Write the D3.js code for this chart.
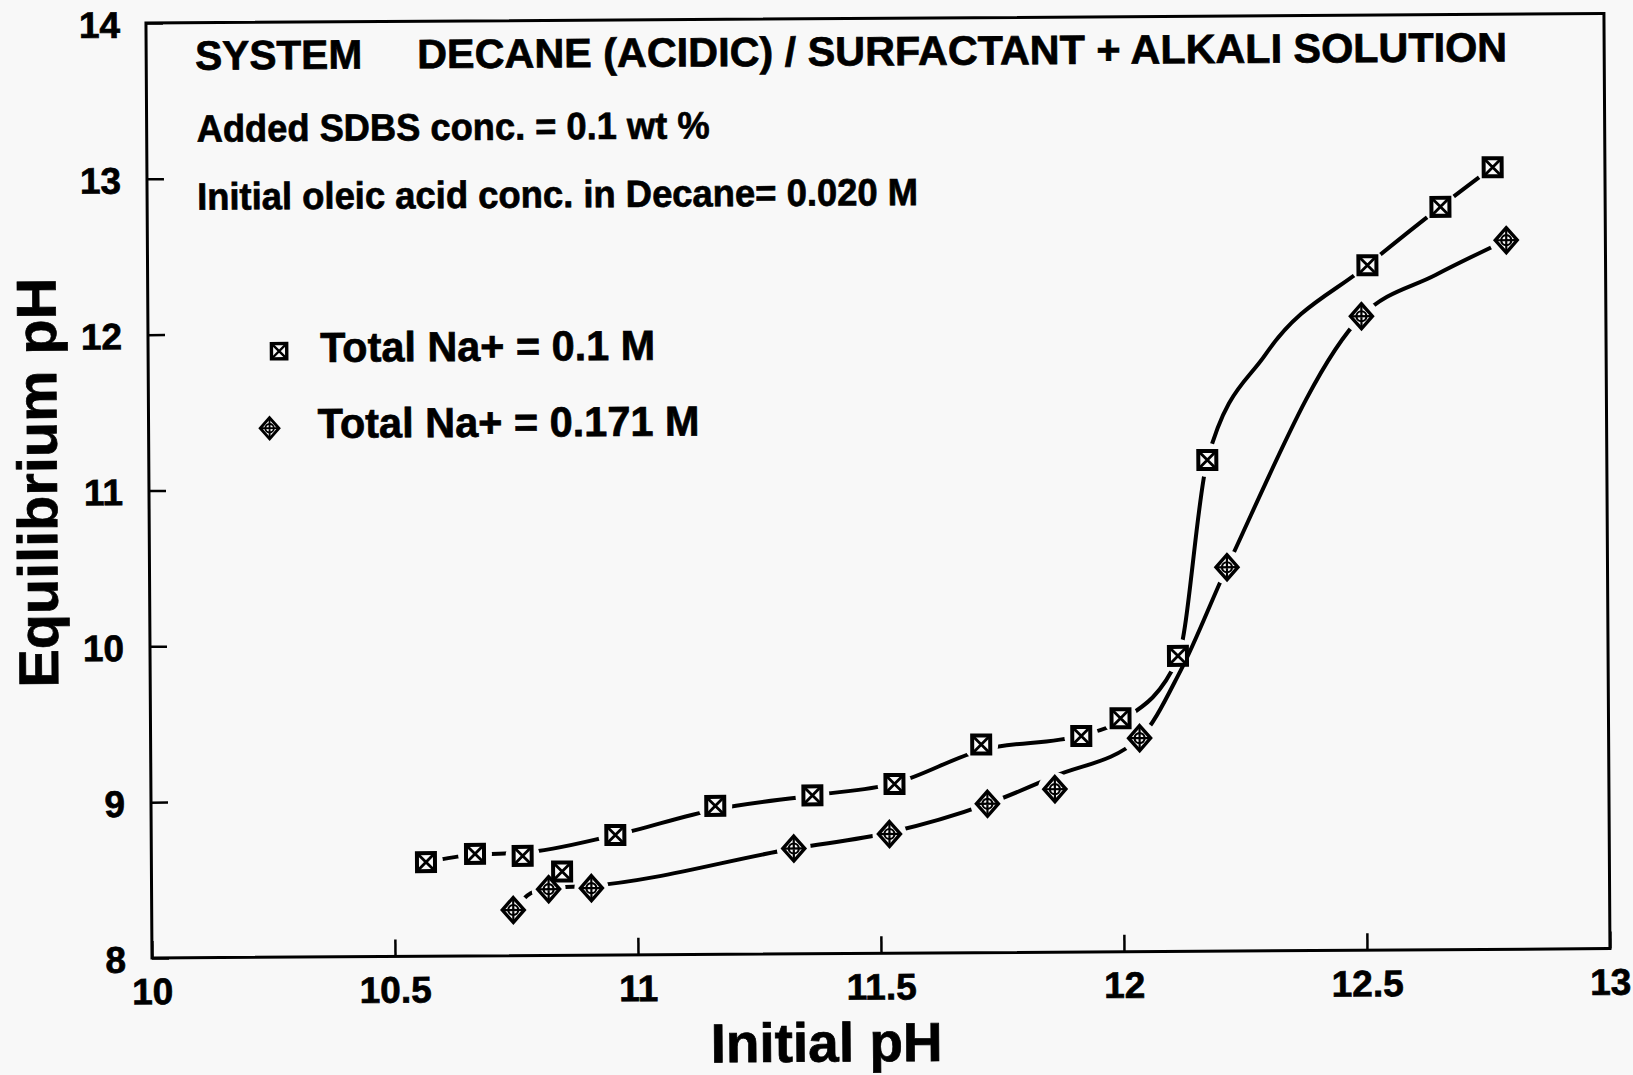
<!DOCTYPE html>
<html><head><meta charset="utf-8">
<script src="https://cdn.jsdelivr.net/npm/d3@7"></script>
<style>
html,body{margin:0;padding:0;background:#f8f8f8;}
svg{display:block;}
text{font-family:"Liberation Sans",Arial,Helvetica,sans-serif;font-weight:bold;fill:#000;stroke:#000;stroke-width:0.7px;}
</style></head><body>
<svg id="chart" width="1633" height="1075"></svg>
<script>
// ---------- data ----------
const xTickValues = [10, 10.5, 11, 11.5, 12, 12.5, 13];
const xTickLabels = ["10", "10.5", "11", "11.5", "12", "12.5", "13"];
const yTickValues = [8, 9, 10, 11, 12, 13, 14];
const yTickLabels = ["8", "9", "10", "11", "12", "13", "14"];

const seriesNames = ["Total Na+ = 0.1 M", "Total Na+ = 0.171 M"];

// Total Na+ = 0.1 M (square markers)
const na01Initial = [10.565, 10.666, 10.764, 10.845, 10.955, 11.161, 11.361, 11.530, 11.709, 11.915, 11.996, 12.115, 12.178, 12.510, 12.661, 12.769];
const na01Equil   = [8.604, 8.655, 8.640, 8.538, 8.770, 8.953, 9.016, 9.086, 9.336, 9.386, 9.498, 9.896, 11.152, 12.395, 12.767, 13.019];
// smooth hand-drawn curve through the 0.1 M data
const na01CurveInitial = [10.565, 10.666, 10.764, 10.955, 11.161, 11.361, 11.530, 11.709, 11.915, 11.996, 12.115, 12.178, 12.30, 12.510, 12.661, 12.769];
const na01CurveEquil   = [8.604, 8.650, 8.660, 8.770, 8.930, 9.016, 9.090, 9.300, 9.390, 9.480, 9.880, 11.152, 11.83, 12.395, 12.767, 13.019];

// Total Na+ = 0.171 M (diamond markers)
const na0171Initial = [10.744, 10.817, 10.905, 11.322, 11.519, 11.721, 11.860, 12.035, 12.217, 12.497, 12.796];
const na0171Equil   = [8.293, 8.425, 8.430, 8.676, 8.765, 8.955, 9.046, 9.370, 10.463, 12.068, 12.550];
const na0171CurveInitial = [10.744, 10.78, 10.817, 10.905, 11.322, 11.519, 11.721, 11.86, 12.035, 12.12, 12.217, 12.497, 12.65, 12.796];
const na0171CurveEquil   = [8.293, 8.40, 8.430, 8.445, 8.676, 8.775, 8.955, 9.13, 9.370, 9.80, 10.463, 12.068, 12.33, 12.550];

const titleSystem = "SYSTEM";
const titleMain = "DECANE (ACIDIC) / SURFACTANT + ALKALI SOLUTION";
const noteLines = ["Added SDBS conc. = 0.1 wt %", "Initial oleic acid conc. in Decane= 0.020 M"];
const xTitle = "Initial pH";
const yTitle = "Equilibrium pH";

// ---------- layout ----------
const BG = "#f8f8f8";
const plot = {left: 152, right: 1610, top: 23, bottom: 958};
const svg = d3.select("#chart");
svg.append("rect").attr("width", 1633).attr("height", 1075).attr("fill", BG);

const root = svg.append("g")
  .attr("transform", `rotate(-0.37, ${plot.left}, ${plot.bottom})`);

const x = d3.scaleLinear().domain([10, 13]).range([plot.left, plot.right]);
const y = d3.scaleLinear().domain([8, 14]).range([plot.bottom, plot.top]);

// frame
root.append("rect")
  .attr("x", x(10)).attr("y", y(14))
  .attr("width", x(13) - x(10)).attr("height", y(8) - y(14))
  .attr("fill", "none").attr("stroke", "#000").attr("stroke-width", 3);

// axes
const xAxis = root.append("g").attr("transform", `translate(0,${plot.bottom})`)
  .call(d3.axisBottom(x).tickValues(xTickValues)
    .tickFormat((d, i) => xTickLabels[i])
    .tickSizeInner(-17).tickSizeOuter(0).tickPadding(20));
xAxis.select(".domain").remove();
xAxis.selectAll(".tick line").attr("stroke", "#000").attr("stroke-width", 2.5);
xAxis.selectAll(".tick text").attr("font-size", 37).attr("fill", "#000");
xAxis.attr("font-family", null).attr("font-size", null);

const yAxis = root.append("g").attr("transform", `translate(${plot.left},0)`)
  .call(d3.axisLeft(y).tickValues(yTickValues)
    .tickFormat((d, i) => yTickLabels[i])
    .tickSizeInner(-17).tickSizeOuter(0).tickPadding(26));
yAxis.select(".domain").remove();
yAxis.selectAll(".tick line").attr("stroke", "#000").attr("stroke-width", 2.5);
yAxis.selectAll(".tick text").attr("font-size", 37).attr("dy", "0.38em").attr("fill", "#000");
yAxis.attr("font-family", null).attr("font-size", null);

// axis titles
root.append("text").text(xTitle)
  .attr("x", 826).attr("y", 1066).attr("text-anchor", "middle")
  .attr("font-size", 55).attr("textLength", 232).attr("lengthAdjust", "spacingAndGlyphs");
root.append("text").text(yTitle)
  .attr("transform", "translate(60,482) rotate(-90)").attr("text-anchor", "middle")
  .attr("font-size", 56).attr("textLength", 410).attr("lengthAdjust", "spacingAndGlyphs");

// title + notes
root.append("text").text(titleSystem).attr("x", 201).attr("y", 70)
  .attr("font-size", 41).attr("textLength", 167).attr("lengthAdjust", "spacingAndGlyphs");
root.append("text").text(titleMain).attr("x", 423).attr("y", 70)
  .attr("font-size", 41).attr("textLength", 1090).attr("lengthAdjust", "spacingAndGlyphs");
root.append("text").text(noteLines[0]).attr("x", 202).attr("y", 142)
  .attr("font-size", 38).attr("textLength", 513).attr("lengthAdjust", "spacingAndGlyphs");
root.append("text").text(noteLines[1]).attr("x", 202).attr("y", 210)
  .attr("font-size", 38).attr("textLength", 721).attr("lengthAdjust", "spacingAndGlyphs");

// marker drawers
function drawSquare(g, s) {
  g.append("path").attr("d", `M${-9*s},${-9*s}H${9*s}V${9*s}H${-9*s}Z`)
    .attr("fill", BG).attr("stroke", "#000").attr("stroke-width", 4*s);
  g.append("path").attr("d", `M${-8*s},${-8*s}L${8*s},${8*s}M${8*s},${-8*s}L${-8*s},${8*s}`)
    .attr("fill", "none").attr("stroke", "#000").attr("stroke-width", 2.8*s);
}
function drawDiamond(g, s) {
  g.append("path").attr("d", `M0,${-12.5*s}L${11*s},0L0,${12.5*s}L${-11*s},0Z`)
    .attr("fill", BG).attr("stroke", "#000").attr("stroke-width", 3.4*s).attr("stroke-linejoin", "miter");
  g.append("circle").attr("r", 5*s).attr("fill", "none").attr("stroke", "#000").attr("stroke-width", 2.2*s);
  g.append("path").attr("d", `M0,${-12*s}V${12*s}M${-11*s},0H${11*s}`)
    .attr("fill", "none").attr("stroke", "#000").attr("stroke-width", 2.2*s);
}

const series = [
  {xs: na01Initial, ys: na01Equil, cx: na01CurveInitial, cy: na01CurveEquil, draw: drawSquare},
  {xs: na0171Initial, ys: na0171Equil, cx: na0171CurveInitial, cy: na0171CurveEquil, draw: drawDiamond}
];

const defs = svg.append("defs");
const line = d3.line().x(d => x(d[0])).y(d => y(d[1])).curve(d3.curveMonotoneX);

series.forEach((s, si) => {
  const pts = s.xs.map((v, i) => [v, s.ys[i]]);
  const curve = s.cx.map((v, i) => [v, s.cy[i]]);
  const mask = defs.append("mask").attr("id", "gap" + si).attr("maskUnits", "userSpaceOnUse")
    .attr("x", -100).attr("y", -100).attr("width", 1900).attr("height", 1300);
  mask.append("rect").attr("x", -100).attr("y", -100).attr("width", 1900).attr("height", 1300).attr("fill", "#fff");
  mask.selectAll("circle").data(pts).join("circle")
    .attr("cx", d => x(d[0])).attr("cy", d => y(d[1])).attr("r", 17).attr("fill", "#000");
  root.append("path").datum(curve).attr("d", line)
    .attr("fill", "none").attr("stroke", "#000").attr("stroke-width", 4)
    .attr("stroke-linecap", "round").attr("mask", `url(#gap${si})`);
});
series.forEach(s => {
  const pts = s.xs.map((v, i) => [v, s.ys[i]]);
  root.append("g").selectAll("g").data(pts).join("g")
    .attr("transform", d => `translate(${x(d[0])},${y(d[1])})`)
    .each(function () { s.draw(d3.select(this), 1); });
});

// legend
const legendRows = [
  {name: seriesNames[0], draw: drawSquare, mx: 283, my: 352, sc: 0.85, tx: 324, ty: 363, tl: 335},
  {name: seriesNames[1], draw: drawDiamond, mx: 273, my: 429, sc: 0.85, tx: 321, ty: 439, tl: 382}
];
legendRows.forEach(r => {
  const g = root.append("g").attr("transform", `translate(${r.mx},${r.my})`);
  r.draw(g, r.sc);
  root.append("text").text(r.name).attr("x", r.tx).attr("y", r.ty)
    .attr("font-size", 42).attr("textLength", r.tl).attr("lengthAdjust", "spacingAndGlyphs");
});
</script>
</body></html>
